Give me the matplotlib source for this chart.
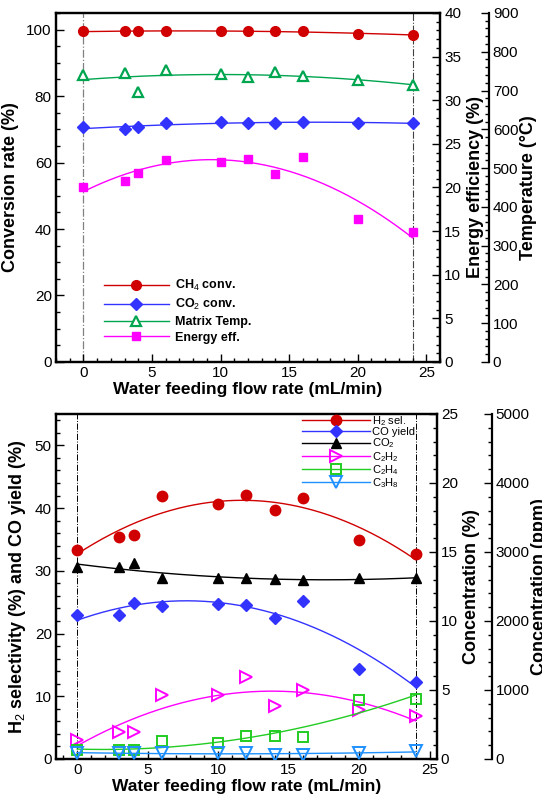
import numpy as np
import matplotlib
matplotlib.use("Agg")
import matplotlib.pyplot as plt
from matplotlib.lines import Line2D
from matplotlib.ticker import MultipleLocator

plt.rcParams['font.family'] = ['Liberation Sans', 'DejaVu Sans']
plt.rcParams['mathtext.fontset'] = 'custom'
plt.rcParams['mathtext.rm'] = 'Liberation Sans'
plt.rcParams['mathtext.it'] = 'Liberation Sans'
plt.rcParams['mathtext.bf'] = 'Liberation Sans:bold'

# ================= DATA ================= #
water_flow = [0, 3, 4, 6, 10, 12, 14, 16, 20, 24]

# top panel
ch4_conv = [99.5, 99.5, 99.5, 99.5, 99.5, 99.5, 99.5, 99.5, 98.7, 98.4]
co2_conv = [70.6, 70.0, 70.7, 72.0, 72.1, 72.0, 71.9, 72.1, 71.9, 71.9]
matrix_temp = [739, 745, 696, 754, 743, 736, 749, 738, 726, 713]
energy_eff = [20.0, 20.7, 21.7, 23.2, 22.9, 23.3, 21.5, 23.5, 16.4, 14.9]

# bottom panel
h2_sel = [33.3, 35.4, 35.7, 41.9, 40.6, 42.1, 39.7, 41.6, 34.9, 32.7]
co_yield = [22.9, 23.0, 24.8, 24.4, 24.7, 24.6, 22.4, 25.2, 14.4, 12.3]
co2_conc = [13.9, 13.9, 14.2, 13.1, 13.1, 13.1, 13.05, 12.95, 13.1, 13.1]
c2h2_conc = [1.35, 1.96, 1.96, 4.62, 4.67, 5.95, 3.87, 5.03, 3.58, 3.09]
c2h4_conc = [0.62, 0.67, 0.62, 1.33, 1.16, 1.64, 1.64, 1.57, 4.25, 4.35]
c3h8_ppm = [85, 85, 80, 85, 85, 85, 65, 65, 85, 110]

RED = '#D00000'
BLUE = '#3333FF'
GREEN_T = '#00A550'
MAGENTA = '#FF00FF'
GREEN_B = '#22CC22'
SKY = '#1E90FF'

TICK_FS = 11
XLAB_FS = 12.5
YLAB_FS = 13

X = np.array(water_flow, dtype=float)
XF = np.linspace(0, 24, 200)


def fit(y, deg=2):
    return np.polyval(np.polyfit(X, np.array(y, dtype=float), deg), XF)


def style(ax):
    ax.tick_params(which='both', direction='in', width=1, labelsize=TICK_FS, pad=3)
    ax.tick_params(which='major', length=6)
    ax.tick_params(which='minor', length=3)
    for s in ax.spines.values():
        s.set_linewidth(1.6)


fig = plt.figure(figsize=(5.42, 7.95), dpi=100)

# ================= TOP PANEL ================= #
ax1 = fig.add_axes([0.1033, 0.5447, 0.7085, 0.4390])
ax1b = ax1.twinx()
ax1c = ax1.twinx()
ax1c.spines['right'].set_position(('outward', 35))
for s in ['top', 'bottom', 'left']:
    ax1c.spines[s].set_visible(False)

ax1.axvline(0, color='gray', ls='-.', lw=0.9, zorder=0)
ax1.axvline(24, color='0.25', ls='-.', lw=0.8, zorder=0)

ax1.plot(XF, fit(ch4_conv), color=RED, lw=1)
ax1.plot(X, ch4_conv, 'o', color=RED, ms=7)
ax1.plot(XF, fit(co2_conv), color=BLUE, lw=1)
ax1.plot(X, co2_conv, 'D', color=BLUE, ms=6)
ax1c.plot(XF, fit(matrix_temp), color=GREEN_T, lw=1)
ax1c.plot(X, matrix_temp, '^', color=GREEN_T, mfc='white', mew=1.6, ms=7.5)
ax1b.plot(XF, fit(energy_eff), color=MAGENTA, lw=1)
ax1b.plot(X, energy_eff, 's', color=MAGENTA, ms=6)

ax1.set_xlim(-2, 26)
ax1.set_ylim(0, 105)
ax1b.set_ylim(0, 40)
ax1c.set_ylim(0, 900)
ax1.xaxis.set_major_locator(MultipleLocator(5))
ax1.xaxis.set_minor_locator(MultipleLocator(1))
ax1.yaxis.set_major_locator(MultipleLocator(20))
ax1.yaxis.set_minor_locator(MultipleLocator(5))
ax1b.yaxis.set_major_locator(MultipleLocator(5))
ax1b.yaxis.set_minor_locator(MultipleLocator(1))
ax1c.yaxis.set_major_locator(MultipleLocator(100))
ax1c.yaxis.set_minor_locator(MultipleLocator(20))
for a in (ax1, ax1b, ax1c):
    style(a)

ax1.set_xlabel('Water feeding flow rate (mL/min)', fontsize=XLAB_FS, fontweight='bold', labelpad=1)
ax1.set_ylabel('Conversion rate (%)', fontsize=YLAB_FS, fontweight='bold', labelpad=5)
ax1b.set_ylabel('Energy efficiency (%)', fontsize=YLAB_FS, fontweight='bold', labelpad=4)
ax1c.set_ylabel('Temperature (\u00b0C)', fontsize=YLAB_FS, fontweight='bold', labelpad=1)

top_handles = [
    Line2D([], [], color=RED, marker='o', ms=7, lw=1),
    Line2D([], [], color=BLUE, marker='D', ms=6, lw=1),
    Line2D([], [], color=GREEN_T, marker='^', mfc='white', mew=1.6, ms=7.5, lw=1),
    Line2D([], [], color=MAGENTA, marker='s', ms=6, lw=1),
]
top_labels = ['CH$_4$ conv.', 'CO$_2$ conv.', 'Matrix Temp.', 'Energy eff.']
leg1 = ax1c.legend(top_handles, top_labels, loc='upper left', bbox_to_anchor=(0.125, 0.24),
                   frameon=False, handlelength=5.2, handletextpad=0.45, labelspacing=0.3,
                   borderpad=0, borderaxespad=0, prop={'size': 9, 'weight': 'bold'})

# ================= BOTTOM PANEL ================= #
ax2 = fig.add_axes([0.1033, 0.0453, 0.7024, 0.4340])
ax2b = ax2.twinx()
ax2c = ax2.twinx()
ax2c.spines['right'].set_position(('outward', 39.5))
for s in ['top', 'bottom', 'left']:
    ax2c.spines[s].set_visible(False)

ax2.axvline(0, color='black', ls='-.', lw=0.7, zorder=0)
ax2.axvline(24, color='black', ls='-.', lw=0.7, zorder=0)

ax2.plot(XF, fit(h2_sel), color=RED, lw=1)
ax2.plot(X, h2_sel, 'o', color=RED, ms=7.5)
ax2.plot(XF, fit(co_yield), color=BLUE, lw=1)
ax2.plot(X, co_yield, 'D', color=BLUE, ms=6.5)
ax2b.plot(XF, fit(co2_conc), color='black', lw=1)
ax2b.plot(X, co2_conc, '^', color='black', ms=7)
ax2b.plot(XF, fit(c2h2_conc), color=MAGENTA, lw=1)
ax2b.plot(X, c2h2_conc, '>', color=MAGENTA, mfc='none', mew=1.4, ms=8)
ax2b.plot(XF, fit(c2h4_conc), color=GREEN_B, lw=1)
ax2b.plot(X, c2h4_conc, 's', color=GREEN_B, mfc='none', mew=1.4, ms=7.5)
ax2c.plot(XF, fit(c3h8_ppm), color=SKY, lw=1)
ax2c.plot(X, c3h8_ppm, 'v', color=SKY, mfc='none', mew=1.4, ms=8)

ax2.set_xlim(-1.5, 25.5)
ax2.set_ylim(0, 55)
ax2b.set_ylim(0, 25)
ax2c.set_ylim(0, 5000)
ax2.xaxis.set_major_locator(MultipleLocator(5))
ax2.xaxis.set_minor_locator(MultipleLocator(1))
ax2.yaxis.set_major_locator(MultipleLocator(10))
ax2.yaxis.set_minor_locator(MultipleLocator(2))
ax2b.yaxis.set_major_locator(MultipleLocator(5))
ax2b.yaxis.set_minor_locator(MultipleLocator(1))
ax2c.yaxis.set_major_locator(MultipleLocator(1000))
ax2c.yaxis.set_minor_locator(MultipleLocator(200))
for a in (ax2, ax2b, ax2c):
    style(a)

ax2.set_xlabel('Water feeding flow rate (mL/min)', fontsize=XLAB_FS, fontweight='bold', labelpad=1)
ax2.set_ylabel('H$_2$ selectivity (%) and CO yield (%)', fontsize=YLAB_FS, fontweight='bold', labelpad=5)
ax2b.set_ylabel('Concentration (%)', fontsize=YLAB_FS, fontweight='bold', labelpad=4)
ax2c.set_ylabel('Concentration (ppm)', fontsize=YLAB_FS, fontweight='bold', labelpad=1)

bot_handles = [
    Line2D([], [], color=RED, marker='o', ms=7.5, lw=1),
    Line2D([], [], color=BLUE, marker='D', ms=6.5, lw=1),
    Line2D([], [], color='black', marker='^', ms=7, lw=1),
    Line2D([], [], color=MAGENTA, marker='>', mfc='none', mew=1.4, ms=8, lw=1),
    Line2D([], [], color=GREEN_B, marker='s', mfc='none', mew=1.4, ms=7.5, lw=1),
    Line2D([], [], color=SKY, marker='v', mfc='none', mew=1.4, ms=8, lw=1),
]
bot_labels = ['H$_2$ sel.', 'CO yield', 'CO$_2$', 'C$_2$H$_2$', 'C$_2$H$_4$', 'C$_3$H$_8$']
leg2 = ax2c.legend(bot_handles, bot_labels, loc='upper left', bbox_to_anchor=(0.645, 1.0),
                   frameon=False, handlelength=6.2, handletextpad=0.1, labelspacing=-0.05,
                   borderpad=0, borderaxespad=0, prop={'size': 8})

fig.savefig('out.png', dpi=100)
